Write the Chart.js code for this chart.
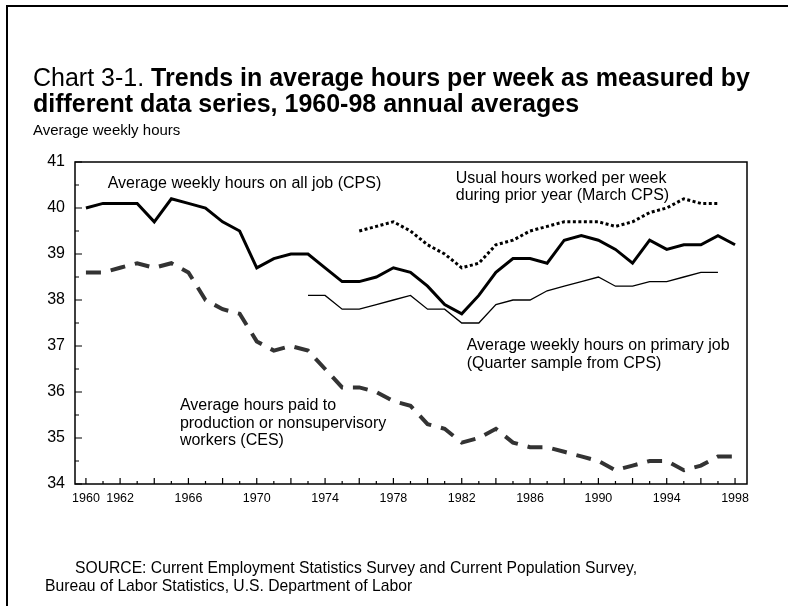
<!DOCTYPE html>
<html><head><meta charset="utf-8">
<script src="https://cdn.jsdelivr.net/npm/chart.js@4.4.0/dist/chart.umd.min.js"></script>
<style>
html,body{margin:0;padding:0;background:#fff;}
#wrap{position:relative;width:788px;height:606px;overflow:hidden;font-family:"Liberation Sans",Arial,sans-serif;color:#000;}
#frameL{position:absolute;left:6px;top:5px;width:2px;height:601px;background:#000;}
#frameT{position:absolute;left:6px;top:5px;width:782px;height:2px;background:#000;}
#c{position:absolute;left:0;top:0;}
#title{position:absolute;left:33px;top:64px;font-size:25px;line-height:26px;white-space:nowrap;}
#ytitle{position:absolute;left:33px;top:121px;font-size:15px;line-height:18px;white-space:nowrap;}
#source{position:absolute;left:45px;top:559px;font-size:15.7px;line-height:18px;white-space:nowrap;}
</style></head>
<body>
<div id="wrap">
<div id="frameL"></div><div id="frameT"></div>
<canvas id="c" width="788" height="606"></canvas>
<div id="title">Chart 3-1. <b>Trends in average hours per week as measured by</b><br><b>different data series, 1960-98 annual averages</b></div>
<div id="ytitle">Average weekly hours</div>
<div id="source"><span style="padding-left:30px">SOURCE: Current Employment Statistics Survey and Current Population Survey,</span><br>Bureau of Labor Statistics, U.S. Department of Labor</div>
</div>
<script>
const years = [1960,1961,1962,1963,1964,1965,1966,1967,1968,1969,1970,1971,1972,1973,1974,1975,1976,1977,1978,1979,1980,1981,1982,1983,1984,1985,1986,1987,1988,1989,1990,1991,1992,1993,1994,1995,1996,1997,1998];
const allJobsCPS = [40.0,40.1,40.1,40.1,39.7,40.2,40.1,40.0,39.7,39.5,38.7,38.9,39.0,39.0,38.7,38.4,38.4,38.5,38.7,38.6,38.3,37.9,37.7,38.1,38.6,38.9,38.9,38.8,39.3,39.4,39.3,39.1,38.8,39.3,39.1,39.2,39.2,39.4,39.2];
const primaryJobCPS = [null,null,null,null,null,null,null,null,null,null,null,null,null,38.1,38.1,37.8,37.8,37.9,38.0,38.1,37.8,37.8,37.5,37.5,37.9,38.0,38.0,38.2,38.3,38.4,38.5,38.3,38.3,38.4,38.4,38.5,38.6,38.6,null];
const marchCPS = [null,null,null,null,null,null,null,null,null,null,null,null,null,null,null,null,39.5,39.6,39.7,39.5,39.2,39.0,38.7,38.8,39.2,39.3,39.5,39.6,39.7,39.7,39.7,39.6,39.7,39.9,40.0,40.2,40.1,40.1,null];
const cesHours = [38.6,38.6,38.7,38.8,38.7,38.8,38.6,38.0,37.8,37.7,37.1,36.9,37.0,36.9,36.5,36.1,36.1,36.0,35.8,35.7,35.3,35.2,34.9,35.0,35.2,34.9,34.8,34.8,34.7,34.6,34.5,34.3,34.4,34.5,34.5,34.3,34.4,34.6,34.6];
const xTickLabels = [1960,1962,1966,1970,1974,1978,1982,1986,1990,1994,1998];
const yTickLabels = [34,35,36,37,38,39,40,41];

const seriesLabels = {
  all: ['Average weekly hours on all job (CPS)'],
  march: ['Usual hours worked per week','during prior year (March CPS)'],
  primary: ['Average weekly hours on primary job','(Quarter sample from CPS)'],
  ces: ['Average hours paid to','production or nonsupervisory','workers (CES)']
};
// annotation anchors in data units (year, hours)
const labelAnchors = {
  all: [1961.27, 40.54],
  march: [1981.65, 40.65],
  primary: [1982.29, 37.0],
  ces: [1965.5, 35.7]
};

const pts = arr => years.map((y,i)=>({x:y,y:arr[i]}));
const FONT = '"Liberation Sans", Arial, sans-serif';

const innerTicks = {
  id:'innerTicks',
  beforeDatasetsDraw(chart){
    const {ctx, chartArea:a, scales:{x,y}} = chart;
    ctx.save();
    ctx.strokeStyle='#000';
    ctx.lineWidth=1.5;
    ctx.strokeRect(a.left,a.top,a.right-a.left,a.bottom-a.top);
    ctx.lineWidth=1.2;
    ctx.beginPath();
    years.forEach(yr=>{
      const px=x.getPixelForValue(yr);
      const len = (yr%2===0)?6:3;
      ctx.moveTo(px,a.bottom); ctx.lineTo(px,a.bottom-len);
    });
    for(let i=0;i<yTickLabels.length;i++){
      const v=yTickLabels[i];
      const py=y.getPixelForValue(v);
      ctx.moveTo(a.left,py); ctx.lineTo(a.left+7,py);
      if(i<yTickLabels.length-1){
        const ph=y.getPixelForValue(v+0.5);
        ctx.moveTo(a.left,ph); ctx.lineTo(a.left+4,ph);
      }
    }
    ctx.stroke();
    ctx.restore();
  },
  afterDraw(chart){
    const {ctx, scales:{x,y}} = chart;
    ctx.save();
    ctx.fillStyle='#000';
    ctx.font='16px '+FONT;
    ctx.textAlign='left';
    ctx.textBaseline='middle';
    Object.keys(seriesLabels).forEach(k=>{
      const [ax,ay]=labelAnchors[k];
      const px=x.getPixelForValue(ax), py=y.getPixelForValue(ay);
      seriesLabels[k].forEach((t,i)=>ctx.fillText(t,px,py+i*17.5));
    });
    ctx.restore();
  }
};

new Chart(document.getElementById('c'),{
  type:'line',
  data:{datasets:[
    {label:'CES',data:pts(cesHours),borderColor:'#333',borderWidth:4,borderDash:[15,10],borderCapStyle:'butt',pointRadius:0,tension:0,fill:false},
    {label:'Primary',data:pts(primaryJobCPS),borderColor:'#000',borderWidth:1.3,pointRadius:0,tension:0,fill:false},
    {label:'March',data:pts(marchCPS),borderColor:'#000',borderWidth:3,borderDash:[3,2.5],pointRadius:0,tension:0,fill:false},
    {label:'All',data:pts(allJobsCPS),borderColor:'#000',borderWidth:3,pointRadius:0,tension:0,fill:false,borderJoinStyle:'miter'}
  ]},
  options:{
    responsive:false,animation:false,devicePixelRatio:1,
    layout:{padding:{left:30,top:162,right:41,bottom:92}},
    plugins:{legend:{display:false},tooltip:{enabled:false},title:{display:false}},
    scales:{
      x:{type:'linear',min:1959.36,max:1998.70,
        grid:{display:false,drawTicks:false},border:{display:false},
        afterBuildTicks:s=>{s.ticks=xTickLabels.map(v=>({value:v}));},
        afterFit:s=>{s.height=30;},
        ticks:{autoSkip:false,maxRotation:0,padding:7,color:'#000',font:{family:FONT,size:12.5},callback:v=>String(v)}},
      y:{type:'linear',min:34,max:41,
        grid:{display:false,drawTicks:false},border:{display:false},
        afterBuildTicks:s=>{s.ticks=yTickLabels.map(v=>({value:v}));},
        afterFit:s=>{s.width=45;},
        ticks:{padding:10,color:'#000',font:{family:FONT,size:16},callback:v=>String(v)}}
    }
  },
  plugins:[innerTicks]
});
</script>
</body></html>
